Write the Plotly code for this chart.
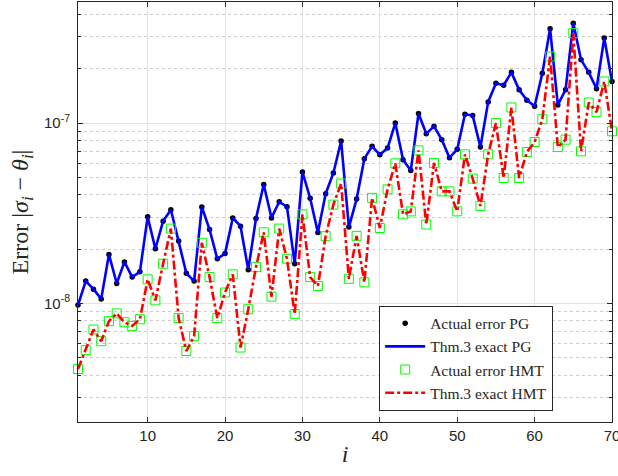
import plotly.graph_objects as go

idx = list(range(1, 71))

pg_err = [9.8e-9, 1.33e-8, 1.2e-8, 1.06e-8, 1.87e-8, 1.29e-8, 1.70e-8, 1.40e-8, 1.50e-8, 3.02e-8,
          2.01e-8, 2.86e-8, 3.31e-8, 2.22e-8, 1.47e-8, 1.33e-8, 3.43e-8, 2.57e-8, 1.77e-8, 1.89e-8,
          2.98e-8, 2.68e-8, 1.54e-8, 2.96e-8, 4.56e-8, 2.98e-8, 3.66e-8, 3.44e-8, 1.66e-8, 5.36e-8,
          3.83e-8, 2.47e-8, 4.06e-8, 5.29e-8, 7.95e-8, 2.65e-8, 3.79e-8, 6.35e-8, 7.43e-8, 6.68e-8,
          7.27e-8, 1.0e-7, 6.27e-8, 5.45e-8, 1.13e-7, 8.73e-8, 9.59e-8, 8.09e-8, 6.43e-8, 7.15e-8,
          1.12e-7, 1.10e-7, 7.36e-8, 1.31e-7, 1.66e-7, 1.62e-7, 1.91e-7, 1.53e-7, 1.34e-7, 1.24e-7,
          1.89e-7, 3.33e-7, 1.26e-7, 1.53e-7, 3.58e-7, 2.24e-7, 1.91e-7, 1.55e-7, 2.96e-7, 1.70e-7]

hmt_err = [4.33e-9, 5.51e-9, 7.17e-9, 6.18e-9, 7.98e-9, 8.81e-9, 7.87e-9, 7.51e-9, 8.18e-9, 1.36e-8,
           1.04e-8, 1.66e-8, 2.60e-8, 8.30e-9, 5.45e-9, 6.59e-9, 2.17e-8, 1.40e-8, 8.30e-9, 1.15e-8,
           1.45e-8, 5.70e-9, 9.29e-9, 1.59e-8, 2.48e-8, 1.09e-8, 2.60e-8, 1.77e-8, 8.73e-9, 3.12e-8,
           1.40e-8, 1.25e-8, 2.36e-8, 3.53e-8, 4.62e-8, 1.37e-8, 2.37e-8, 1.31e-8, 3.85e-8, 2.62e-8,
           4.29e-8, 5.98e-8, 3.12e-8, 3.24e-8, 7.06e-8, 2.74e-8, 6.01e-8, 4.18e-8, 4.18e-8, 3.24e-8,
           6.71e-8, 4.92e-8, 3.47e-8, 6.71e-8, 1.0e-7, 4.96e-8, 1.22e-7, 4.96e-8, 6.91e-8, 7.85e-8,
           1.05e-7, 2.34e-7, 7.36e-8, 8.09e-8, 3.15e-7, 6.97e-8, 1.30e-7, 1.15e-7, 1.70e-7, 9.0e-8]

x_ticks = [10, 20, 30, 40, 50, 60, 70]
y_ticks = [1e-8, 1e-7]
y_tick_text = ["10<sup>-8</sup>", "10<sup>-7</sup>"]
y_minor = [3e-9, 4e-9, 5e-9, 6e-9, 7e-9, 8e-9, 9e-9,
           2e-8, 3e-8, 4e-8, 5e-8, 6e-8, 7e-8, 8e-8, 9e-8,
           2e-7, 3e-7, 4e-7]

axis_col = "#262626"
serif = "Liberation Serif"
sans = "Liberation Sans"

fig = go.Figure()
fig.add_trace(go.Scatter(x=idx, y=pg_err, mode="markers", name="Actual error PG",
                         marker=dict(color="black", size=5.5), cliponaxis=False))
fig.add_trace(go.Scatter(x=idx, y=pg_err, mode="lines", name="Thm.3 exact PG",
                         line=dict(color="#0000ff", width=2.6), cliponaxis=False))
fig.add_trace(go.Scatter(x=idx, y=hmt_err, mode="markers", name="Actual error HMT",
                         marker=dict(symbol="square-open", color="#00ff00", size=9,
                                     line=dict(width=1, color="#00ff00")), cliponaxis=False))
fig.add_trace(go.Scatter(x=idx, y=hmt_err, mode="lines", name="Thm.3 exact HMT",
                         line=dict(color="#ff0000", width=2.6, dash="9px,3px,3px,3px"),
                         cliponaxis=False))

fig.update_layout(
    width=618, height=476,
    margin=dict(l=78, r=6, t=2, b=54, autoexpand=False),
    paper_bgcolor="white", plot_bgcolor="white",
    showlegend=True,
    legend=dict(x=0.564, y=0.027, xanchor="left", yanchor="bottom",
                bgcolor="white", bordercolor=axis_col, borderwidth=1,
                font=dict(family=serif, size=15.5, color=axis_col),
                tracegroupgap=0, itemwidth=40, entrywidth=150),
    font=dict(family=sans, color=axis_col),
)

fig.update_xaxes(
    range=[1, 70], tickvals=x_ticks, ticks="inside", ticklen=5, tickcolor=axis_col,
    showline=True, linecolor=axis_col, linewidth=1, mirror="ticks",
    showgrid=True, gridcolor="#e3e3e3", gridwidth=1, zeroline=False,
    tickfont=dict(family=sans, size=15, color=axis_col),
    ticklabeloverflow="allow",
    title=dict(text="<i>i</i>", font=dict(family=serif, size=24, color=axis_col), standoff=2),
)

fig.update_yaxes(
    type="log", range=[-8.657, -6.329],
    tickvals=y_ticks, ticktext=y_tick_text, ticks="inside", ticklen=5, tickcolor=axis_col,
    showline=True, linecolor=axis_col, linewidth=1, mirror="ticks",
    showgrid=True, gridcolor="#e3e3e3", gridwidth=1, zeroline=False,
    tickfont=dict(family=sans, size=15, color=axis_col),
    ticklabelstandoff=4,
    minor=dict(tickvals=y_minor, ticks="inside", ticklen=3, tickcolor=axis_col,
               showgrid=True, gridcolor="#cccccc", griddash="dot", gridwidth=1),
    title=dict(text="Error |<i>σ<sub>i</sub></i> − <i>θ<sub>i</sub></i>|",
               font=dict(family=serif, size=24, color=axis_col), standoff=8),
)

fig.write_html("out.html", config={"displayModeBar": False},
               post_script="document.body.style.margin='0';")
